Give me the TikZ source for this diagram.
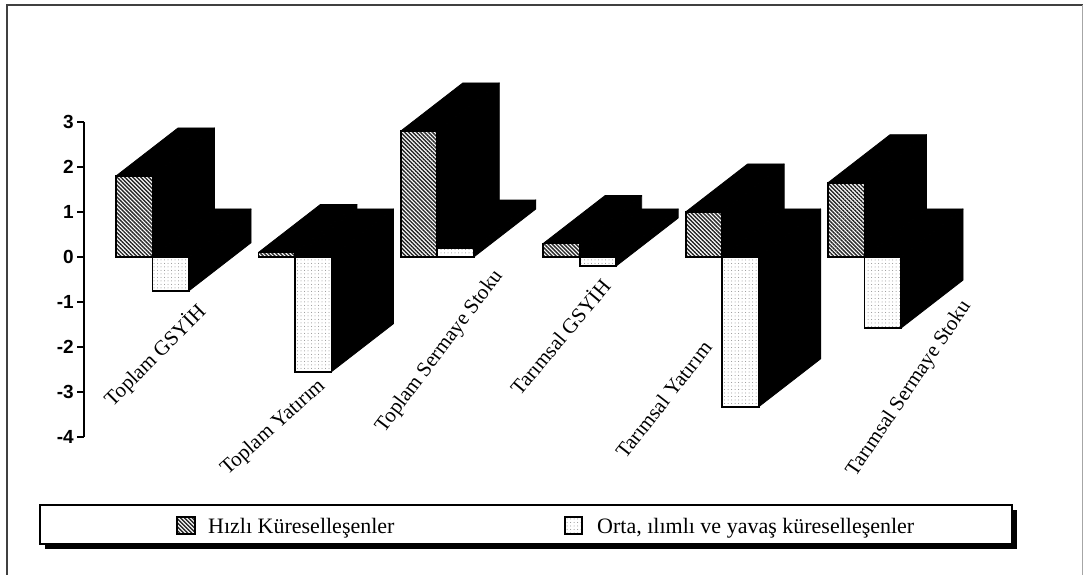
\documentclass[tikz,border=0pt]{standalone}
\usepackage{fontspec}
\setmainfont{Liberation Serif}
\newfontfamily\axisfont{Liberation Sans}
\usetikzlibrary{patterns.meta}
\tikzset{
  hatchface/.style={preaction={fill=white},pattern={Lines[angle=-45,distance=2.8pt,line width=1.4pt]},pattern color=black!85,draw=black,line width=1.8pt},
  dotface/.style={preaction={fill=white},pattern={Dots[distance=3.5pt,radius=0.5pt]},pattern color=black!45,draw=black,line width=1.8pt},
  blackface/.style={fill=black,draw=black,line width=0.8pt,line join=round},
  catlabel/.style={inner sep=0pt,anchor=base east,font=\fontsize{21}{24}\selectfont},
  ticklabel/.style={inner sep=0pt,anchor=east,font=\axisfont\bfseries\fontsize{19}{22}\selectfont},
  legtext/.style={inner sep=0pt,anchor=base west,font=\fontsize{22}{26}\selectfont},
}
\def\bw{36.5}
\def\dX{62}
\def\dY{48}
\newcommand\mkbar[3]{%
  \pgfmathsetmacro\yv{257-45*(#2)}%
  \pgfmathsetmacro\yt{min(257,\yv)}%
  \pgfmathsetmacro\yb{max(257,\yv)}%
  \pgfmathsetmacro\xr{#1+\bw}%
  \pgfmathsetmacro\xrb{\xr+\dX}%
  \pgfmathsetmacro\xlb{#1+\dX}%
  \pgfmathsetmacro\ytb{\yt-\dY}%
  \pgfmathsetmacro\ybb{\yb-\dY}%
  \draw[blackface] (#1,\yt) -- (\xr,\yt) -- (\xrb,\ytb) -- (\xlb,\ytb) -- cycle;
  \draw[blackface] (\xr,\yt) -- (\xrb,\ytb) -- (\xrb,\ybb) -- (\xr,\yb) -- cycle;
  \draw[#3] (#1,\yt) rectangle (\xr,\yb);
}
\begin{document}
\begin{tikzpicture}[x=1pt,y=-1pt]
\useasboundingbox (0,0) rectangle (1085,575);
\fill[white] (0,0) rectangle (1085,575);
% frame
\draw[line width=1.6pt,black!75] (7,575) -- (7,5) -- (1083,5);
\draw[line width=0.8pt,black!35] (1082,5) -- (1082,575);
% axis
\draw[line width=2pt] (84,122) -- (84,437);
\foreach \v [count=\i] in {3,2,1,0,-1,-2,-3,-4}{
  \pgfmathsetmacro\yy{257-45*\v}
  \draw[line width=1.6pt] (77,\yy) -- (84,\yy);
  \node[ticklabel] (tick\i) at (74,\yy) {\v};
}
% bars
\foreach \x/\a/\b in {116/1.8/-0.75, 258.4/0.1/-2.55, 400.8/2.8/0.2, 543.2/0.3/-0.2, 685.6/1.0/-3.33, 828/1.65/-1.58}{
  \mkbar{\x}{\a}{hatchface}
  \pgfmathsetmacro\xd{\x+\bw}
  \mkbar{\xd}{\b}{dotface}
}
% category labels
\node[catlabel,rotate=45] (c1) at (207,313) {Toplam GSYİH};
\node[catlabel,rotate=42] (c2) at (326,387) {Toplam Yatırım};
\node[catlabel,rotate=53] (c3) at (503,276) {Toplam Sermaye Stoku};
\node[catlabel,rotate=50] (c4) at (612,287) {Tarımsal GSYİH};
\node[catlabel,rotate=52] (c5) at (713,348) {Tarımsal Yatırım};
\node[catlabel,rotate=56] (c6) at (971,306) {Tarımsal Sermaye Stoku};
% legend
\fill[black] (45,510) rectangle (1017,549);
\draw[fill=white,line width=1.5pt] (40,505) rectangle (1012,544);
\draw[hatchface] (177,517) rectangle (195,534);
\node[legtext] (l1) at (208,533) {Hızlı Küreselleşenler};
\draw[dotface] (565,517) rectangle (582,534);
\node[legtext] (l2) at (597,533) {Orta, ılımlı ve yavaş küreselleşenler};
\end{tikzpicture}
\end{document}
